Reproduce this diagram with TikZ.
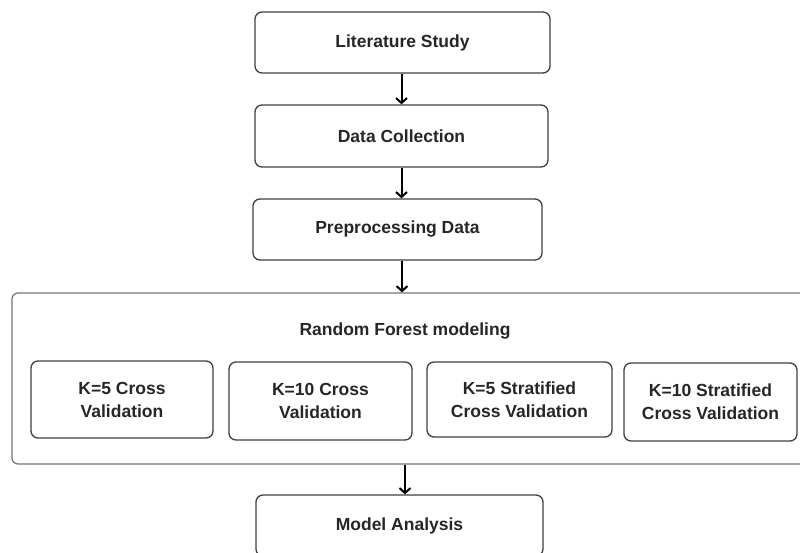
\documentclass[tikz,border=0pt]{standalone}
\usepackage{fontspec}
\setmainfont{Liberation Sans}
\usetikzlibrary{arrows.meta}
\begin{document}
\begin{tikzpicture}[x=1pt,y=-1pt,
  box/.style={draw=black!75,line width=1.3pt,rounded corners=7pt,fill=white,
    font=\bfseries\fontsize{17.5}{23}\selectfont,text=black!85,align=center,inner sep=0pt},
  outer/.style={draw=black!55,line width=1.2pt,rounded corners=6pt,inner sep=0pt},
  flow/.style={draw=black,line width=2pt,-{Straight Barb[length=5pt,width=11pt,line width=2pt]}}]
\useasboundingbox (0,0) rectangle (800,552);
\clip (0,0) rectangle (800,552);
\node[box,minimum width=295pt,minimum height=61pt] (lit) at (402.5,42.5) {Literature Study};
\node[box,minimum width=293pt,minimum height=62pt] (data) at (401.5,136) {Data Collection};
\node[box,minimum width=289pt,minimum height=61pt] (pre) at (397.5,229.5) {Preprocessing Data};
\node[outer,minimum width=803pt,minimum height=171pt] (rf) at (413.5,378.5) {};
\node[box,draw=none,fill=none] (rflabel) at (405,331) {Random Forest modeling};
\node[box,minimum width=182pt,minimum height=77pt] (k5) at (122,399.5) {K=5 Cross\\Validation};
\node[box,minimum width=183pt,minimum height=78pt] (k10) at (320.5,401) {K=10 Cross\\Validation};
\node[box,minimum width=185pt,minimum height=75pt] (k5s) at (519.5,399.5) {K=5 Stratified\\Cross Validation};
\node[box,minimum width=173pt,minimum height=78pt] (k10s) at (710.5,402) {K=10 Stratified\\Cross Validation};
\node[box,minimum width=287pt,minimum height=61pt] (model) at (399.5,525.5) {Model Analysis};
\draw[flow] (lit.south -| data.north) -- (data.north);
\draw[flow] (data.south) -- (data.south |- pre.north);
\draw[flow] ([xshift=4.5pt]pre.south) -- ([xshift=4.5pt]pre.south |- rf.north);
\draw[flow] ([xshift=5.5pt]model.north |- rf.south) -- ([xshift=5.5pt]model.north);
\end{tikzpicture}
\end{document}
